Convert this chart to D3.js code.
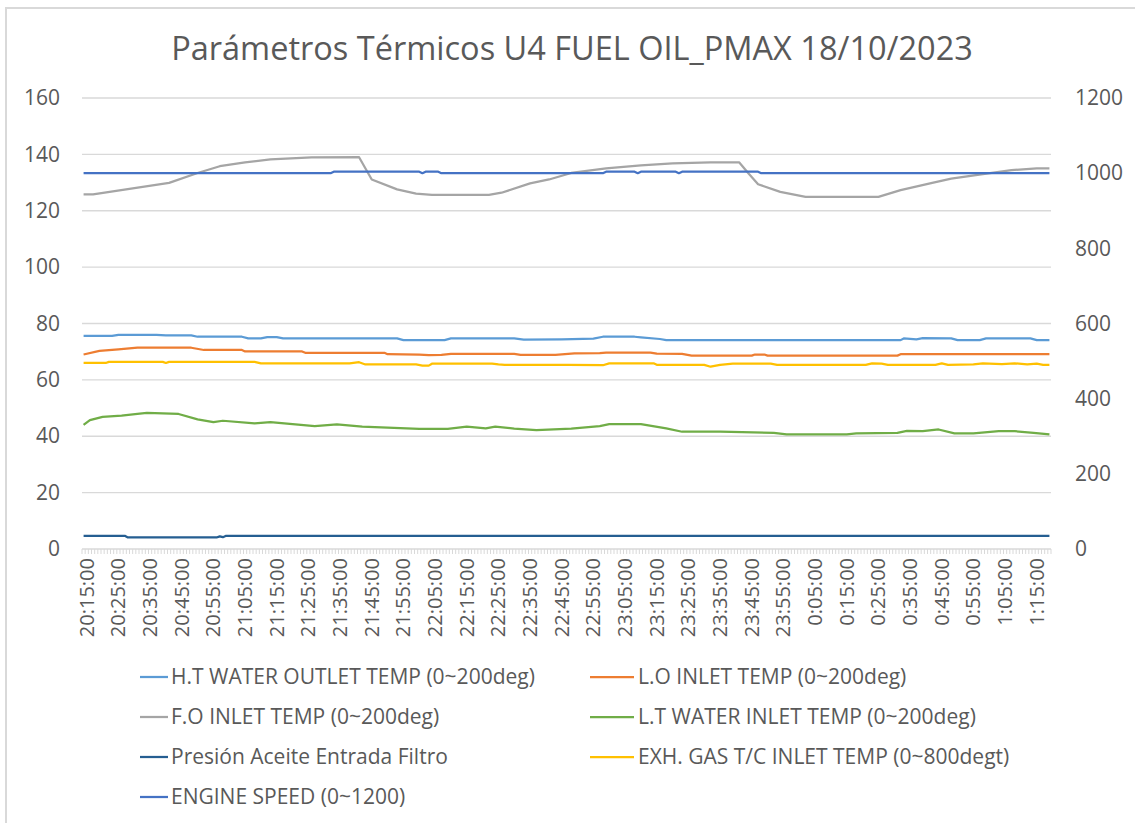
<!DOCTYPE html>
<html lang="es">
<head>
<meta charset="UTF-8">
<title>Parámetros Térmicos U4</title>
<script src="https://d3js.org/d3.v7.min.js"></script>
<style>
  body { margin: 0; background: #fff; }
  svg text { font-family: "Open Sans", "Noto Sans", sans-serif; fill: #595959; }
</style>
</head>
<body>
<svg id="chart" width="1135" height="823"></svg>
<script>
// ---- data ----
const chartTitle = "Parámetros Térmicos U4 FUEL OIL_PMAX 18/10/2023";

const tickLabels = [
  "20:15:00","20:25:00","20:35:00","20:45:00","20:55:00","21:05:00","21:15:00","21:25:00",
  "21:35:00","21:45:00","21:55:00","22:05:00","22:15:00","22:25:00","22:35:00","22:45:00",
  "22:55:00","23:05:00","23:15:00","23:25:00","23:35:00","23:45:00","23:55:00","0:05:00",
  "0:15:00","0:25:00","0:35:00","0:45:00","0:55:00","1:05:00","1:15:00"
];
const leftTicks = [0, 20, 40, 60, 80, 100, 120, 140, 160];
const rightTicks = [0, 200, 400, 600, 800, 1000, 1200];

// [time, value] pairs, left axis (0~160)
const htWater = [["20:14",75.6],["20:23",75.6],["20:25",76.0],["20:37",76.0],["20:40",75.8],["20:48",75.8],
  ["20:50",75.3],["21:04",75.3],["21:06",74.7],["21:10",74.7],["21:12",75.2],["21:15",75.2],["21:17",74.7],
  ["21:53",74.7],["21:55",74.1],["22:08",74.1],["22:10",74.7],["22:30",74.7],["22:33",74.3],["22:45",74.4],
  ["22:55",74.6],["22:58",75.3],["23:08",75.3],["23:10",75.1],["23:16",74.5],["23:18",74.1],["0:32",74.1],
  ["0:33",74.7],["0:37",74.4],["0:39",74.8],["0:48",74.7],["0:50",74.1],["0:57",74.1],["0:59",74.7],
  ["1:13",74.7],["1:15",74.1],["1:19",74.1]];

const loInlet = [["20:14",69.0],["20:19",70.3],["20:25",70.8],["20:31",71.4],["20:48",71.4],["20:52",70.6],
  ["21:04",70.6],["21:05",70.1],["21:23",70.1],["21:24",69.6],["21:49",69.6],["21:50",69.1],["22:00",69.0],
  ["22:03",68.8],["22:07",68.9],["22:10",69.2],["22:30",69.2],["22:32",68.9],["22:43",68.9],["22:49",69.4],
  ["22:57",69.5],["22:59",69.7],["23:13",69.7],["23:15",69.3],["23:23",69.2],["23:26",68.6],["23:45",68.6],
  ["23:46",69.0],["23:49",69.0],["23:50",68.6],["0:31",68.6],["0:32",69.1],["1:19",69.1]];

const foInlet = [["20:14",125.8],["20:17",125.8],["20:41",129.9],["20:50",133.4],["20:57",135.8],["21:05",137.2],
  ["21:13",138.2],["21:26",138.9],["21:41",139.0],["21:45",131.1],["21:53",127.6],["21:59",126.1],["22:04",125.6],
  ["22:22",125.6],["22:26",126.4],["22:35",129.7],["22:41",131.1],["22:48",133.4],["22:59",135.0],["23:10",136.1],
  ["23:20",136.8],["23:32",137.2],["23:41",137.2],["23:44",133.2],["23:47",129.4],["23:54",126.7],["0:02",124.9],
  ["0:25",124.9],["0:32",127.3],["0:42",129.9],["0:48",131.4],["0:58",133.0],["1:07",134.4],["1:15",135.0],["1:19",135.0]];

const ltWater = [["20:14",44.0],["20:16",45.7],["20:20",46.9],["20:26",47.3],["20:31",47.9],["20:34",48.3],
  ["20:44",47.9],["20:50",46.0],["20:55",45.0],["20:58",45.5],["21:08",44.6],["21:13",45.0],["21:27",43.6],
  ["21:34",44.2],["21:42",43.4],["22:00",42.6],["22:09",42.6],["22:15",43.4],["22:21",42.8],["22:24",43.4],
  ["22:30",42.7],["22:37",42.2],["22:48",42.7],["22:57",43.6],["23:00",44.3],["23:10",44.3],["23:18",42.8],
  ["23:23",41.6],["23:35",41.6],["23:52",41.2],["23:56",40.7],["0:15",40.7],["0:18",41.0],["0:31",41.2],
  ["0:34",41.9],["0:39",41.8],["0:44",42.4],["0:49",41.0],["0:55",41.0],["1:03",41.8],["1:08",41.8],
  ["1:14",41.2],["1:19",40.7]];

const presionAceite = [["20:14",4.7],["20:27",4.7],["20:28",4.1],["20:56",4.1],["20:57",4.5],["20:58",4.2],
  ["20:59",4.7],["1:19",4.7]];

// right axis (0~1200)
const exhGas = [["20:14",495],["20:21",495],["20:22",498],["20:39",498],["20:40",495],["20:41",498],["21:08",498],
  ["21:10",494],["21:38",494],["21:41",497],["21:43",491],["21:59",491],["22:01",488],["22:03",488],["22:04",493],
  ["22:23",493],["22:25",491],["22:27",490],["22:47",490],["22:58",489],["23:00",494],["23:14",494],["23:15",490],
  ["23:30",490],["23:32",485],["23:35",490],["23:39",493],["23:51",493],["23:53",490],["0:21",490],["0:23",494],
  ["0:26",493],["0:28",490],["0:43",490],["0:45",494],["0:47",490],["0:55",491],["0:58",494],["1:04",492],
  ["1:08",494],["1:12",491],["1:15",493],["1:17",490],["1:19",490]];

const engineSpeed = [["20:14",1000],["21:32",1000],["21:33",1004],["22:00",1004],["22:01",1000],["22:02",1004],
  ["22:06",1004],["22:07",1000],["22:58",1000],["22:59",1004],["23:08",1004],["23:09",1000],["23:10",1004],
  ["23:21",1004],["23:22",1000],["23:23",1004],["23:47",1004],["23:48",1000],["1:19",1000]];

const series = [
  { name: "H.T WATER OUTLET TEMP (0~200deg)", data: htWater, color: "#5B9BD5", axis: "left" },
  { name: "L.O INLET TEMP (0~200deg)", data: loInlet, color: "#ED7D31", axis: "left" },
  { name: "F.O INLET TEMP (0~200deg)", data: foInlet, color: "#A5A5A5", axis: "left" },
  { name: "L.T WATER INLET TEMP (0~200deg)", data: ltWater, color: "#70AD47", axis: "left" },
  { name: "Presión Aceite Entrada Filtro", data: presionAceite, color: "#255E91", axis: "left" },
  { name: "EXH. GAS T/C INLET TEMP (0~800degt)", data: exhGas, color: "#FFC000", axis: "right" },
  { name: "ENGINE SPEED (0~1200)", data: engineSpeed, color: "#4472C4", axis: "right" }
];

// ---- helpers ----
// minutes after 20:15, times after midnight roll into the next day
function toMin(s) {
  const [h, m] = s.split(":").map(Number);
  let v = h * 60 + m;
  if (h < 12) v += 1440;
  return v - (20 * 60 + 15);
}

const svg = d3.select("#chart");
const plot = { left: 82, right: 1051, top: 98, bottom: 549 };

const x = d3.scaleLinear().domain([-1.5, 304.5]).range([plot.left, plot.right]);
const yL = d3.scaleLinear().domain([0, 160]).range([plot.bottom, plot.top]);
const yR = d3.scaleLinear().domain([0, 1200]).range([plot.bottom, plot.top]);

// chart border (top + left visible)
svg.append("rect")
  .attr("x", 6).attr("y", 8).attr("width", 1140).attr("height", 830)
  .attr("fill", "none").attr("stroke", "#d9d9d9").attr("stroke-width", 2);

// title
svg.append("text")
  .attr("x", 572).attr("y", 60)
  .attr("text-anchor", "middle")
  .style("font-size", "32.5px")
  .text(chartTitle);

// gridlines
svg.append("g").selectAll("line")
  .data(leftTicks.filter(d => d > 0))
  .join("line")
  .attr("x1", plot.left).attr("x2", plot.right)
  .attr("y1", d => yL(d)).attr("y2", d => yL(d))
  .attr("stroke", "#d9d9d9").attr("stroke-width", 1.3);

// left axis labels
const gLeft = svg.append("g")
  .attr("transform", `translate(${plot.left},0)`)
  .call(d3.axisLeft(yL).tickValues(leftTicks).tickSize(0).tickPadding(22));
gLeft.select(".domain").remove();
gLeft.selectAll("text").style("font-size", "21px").attr("fill", "#595959");

// right axis labels
const gRight = svg.append("g")
  .attr("transform", `translate(${plot.right},0)`)
  .call(d3.axisRight(yR).tickValues(rightTicks).tickFormat(d3.format("d")).tickSize(0).tickPadding(24));
gRight.select(".domain").remove();
gRight.selectAll("text").style("font-size", "21px").attr("fill", "#595959");

// category axis: baseline + per-minute tick marks
svg.append("line")
  .attr("x1", plot.left).attr("x2", plot.right)
  .attr("y1", plot.bottom).attr("y2", plot.bottom)
  .attr("stroke", "#d9d9d9").attr("stroke-width", 1.3);
svg.append("g").selectAll("line")
  .data(d3.range(-1.5, 305, 1))
  .join("line")
  .attr("x1", d => x(d)).attr("x2", d => x(d))
  .attr("y1", plot.bottom).attr("y2", plot.bottom + 5)
  .attr("stroke", "#d9d9d9").attr("stroke-width", 1);

// rotated time labels
svg.append("g").selectAll("text")
  .data(tickLabels)
  .join("text")
  .attr("transform", d => `translate(${x(toMin(d.slice(0, -3)))},${plot.bottom + 9}) rotate(-90)`)
  .attr("text-anchor", "end")
  .attr("dy", "0.35em")
  .style("font-size", "20px")
  .text(d => d);

// series lines
const gLines = svg.append("g");
series.forEach(s => {
  const yScale = s.axis === "left" ? yL : yR;
  const line = d3.line()
    .x(d => x(toMin(d[0])))
    .y(d => yScale(d[1]));
  gLines.append("path")
    .datum(s.data)
    .attr("fill", "none")
    .attr("stroke", s.color)
    .attr("stroke-width", 2.25)
    .attr("stroke-linejoin", "round")
    .attr("d", line);
});

// legend, two columns
const legend = svg.append("g");
series.forEach((s, i) => {
  const col = i % 2, row = Math.floor(i / 2);
  const lx = col === 0 ? 140 : 590;
  const ly = 677 + row * 40;
  legend.append("line")
    .attr("x1", lx).attr("x2", lx + (col === 0 ? 28 : 44))
    .attr("y1", ly).attr("y2", ly)
    .attr("stroke", s.color).attr("stroke-width", 2.25);
  legend.append("text")
    .attr("x", lx + (col === 0 ? 31 : 48)).attr("y", ly)
    .attr("dy", "0.35em")
    .style("font-size", "21px")
    .text(s.name);
});
</script>
</body>
</html>
